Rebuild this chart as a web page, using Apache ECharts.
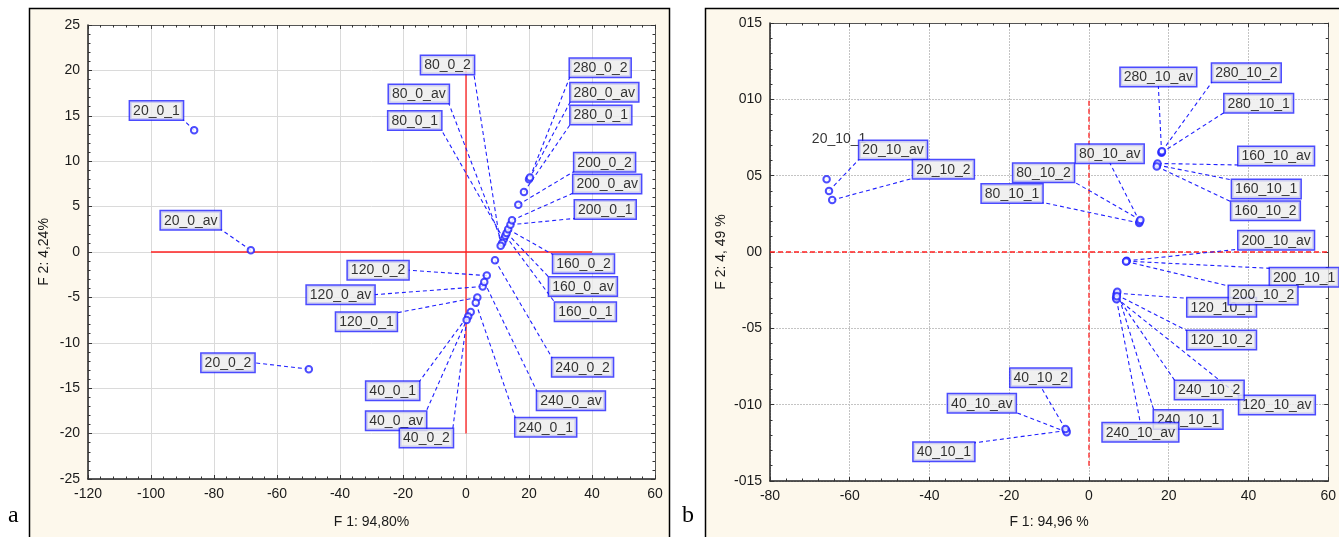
<!DOCTYPE html>
<html><head><meta charset="utf-8">
<script src="https://cdn.jsdelivr.net/npm/echarts/dist/echarts.min.js"></script>
<style>html,body{margin:0;padding:0;background:#fff}#c{width:1339px;height:537px}</style>
</head><body><div id="c"></div>
<script>
// ---------- Panel a data ----------
const namesA = ['20_0_1','20_0_av','20_0_2','40_0_1','40_0_av','40_0_2','80_0_1','80_0_av','80_0_2',
  '120_0_1','120_0_av','120_0_2','160_0_1','160_0_av','160_0_2','200_0_1','200_0_av','200_0_2',
  '240_0_1','240_0_av','240_0_2','280_0_1','280_0_av','280_0_2'];
const f1A = [-86.3,-68.3,-49.9, 1.5,0.7,0.2, 12.0,11.5,11.0, 3.6,5.3,6.6, 12.5,12.9,13.4, 14.1,14.6,16.6, 3.1,5.8,9.2, 18.4,20.0,20.3];
const f2A = [13.4,0.2,-12.9, -6.6,-7.1,-7.5, 1.4,1.0,0.7, -5.0,-3.8,-2.6, 1.8,2.1,2.5, 3.0,3.5,5.2, -5.6,-3.3,-0.9, 6.6,8.0,8.2];
const xTicksA = {min:-120, max:60, step:20};
const yTicksA = {min:-25, max:25, step:5};
const refHA = [[-100,0],[40,0]];
const refVA = [[0,-20],[0,20]];

// ---------- Panel b data ----------
const namesB = ['20_10_1','20_10_av','20_10_2','40_10_1','40_10_av','40_10_2','80_10_1','80_10_av','80_10_2',
  '120_10_1','120_10_av','120_10_2','160_10_1','160_10_av','160_10_2','200_10_1','200_10_av','200_10_2',
  '240_10_1','240_10_av','240_10_2','280_10_1','280_10_av','280_10_2'];
const f1B = [-65.8,-65.2,-64.4, -5.7,-5.6,-5.9, 12.6,12.7,12.9, 7.0,6.8,6.9, 17.1,17.2,17.0, 9.4,9.45,9.3, 7.1,6.9,7.0, 18.2,18.2,18.3];
const f2B = [4.76,4.0,3.4, -11.7,-11.8,-11.6, 1.9,2.0,2.1, -2.7,-3.0,-2.8, 5.7,5.8,5.6, -0.6,-0.58,-0.62, -2.6,-3.1,-2.9, 6.5,6.55,6.6];
const xTicksB = {min:-80, max:60, step:20};
const yTickValsB = [-15,-10,-5,0,5,10,15];
const yTickTextB = ['-015','-010','-05','00','05','010','015'];
const refHB = [[-80,0],[60,0]];
const refVB = [[0,-14],[0,10]];

const titleA = {x:'F 1: 94,80%', y:'F 2: 4,24%'};
const titleB = {x:'F 1: 94,96 %', y:'F 2: 4, 49 %'};

// ---------- label layout (anchor side, anchor in data units, boxed) ----------
const labelLayoutA = [
  ['br',-89.9,14.6],['br',-77.9,2.5],['r',-67.2,-12.2],
  ['tr',-14.9,-14.3],['tr',-12.7,-17.6],['tr',-4.2,-19.5],
  ['br',-7.9,13.5],['br',-5.5,16.4],['br',2.5,19.6],
  ['tr',-22.0,-6.7],['r',-29.1,-4.7],['r',-18.3,-2.0],
  ['tl',28.3,-5.6],['tl',26.4,-2.8],['tl',27.7,-0.3],
  ['bl',34.6,3.7],['bl',34.1,6.5],['bl',34.4,8.9],
  ['tl',15.7,-18.3],['tl',22.6,-15.4],['tl',27.4,-11.7],
  ['bl',33.2,14.1],['bl',33.2,16.6],['bl',33.0,19.3]
];
const labelLayoutB = [
  ['bl',-69.5,6.88,false],['bl',-57.6,6.09],['bl',-44.1,4.83],
  ['tr',-28.8,-12.5],['br',-18.4,-10.5],['b',-12.1,-8.82],
  ['br',-11.7,3.25],['b',5.2,5.85],['br',-3.8,4.6],
  ['tl',24.7,-3.03],['tl',37.7,-9.43],['tl',24.7,-5.17],
  ['tl',35.9,4.72],['bl',37.5,5.70],['tl',35.7,3.29],
  ['tl',45.4,-1.07],['bl',37.5,0.18],['tl',35.1,-2.23],
  ['tl',16.3,-10.39],['t',12.9,-11.22],['tl',21.6,-8.45],
  ['bl',34.0,9.15],['b',17.4,10.87],['bl',30.9,11.15]
];

const ALIGN = {tl:['left','top'],tr:['right','top'],bl:['left','bottom'],br:['right','bottom'],
  l:['left','middle'],r:['right','middle'],t:['center','top'],b:['center','bottom']};
const FONT = "'Liberation Sans', Arial, sans-serif";
const BLUE = '#2020ff';

function panelSeries(xi, yi, names, f1, f2, layout, refH, refV, refDashed){
  const lineData = [];
  layout.forEach((l,i)=>{ if(l[3]!==false) lineData.push({coords:[[f1[i],f2[i]],[l[1],l[2]]]}); });
  const labelData = layout.map((l,i)=>{
    const a = ALIGN[l[0]];
    const boxed = l[3]!==false;
    const lab = {show:true, position:'inside', align:a[0], verticalAlign:a[1], formatter:names[i],
      color:'#000', fontSize:14, fontFamily:FONT, lineHeight:15};
    if (boxed) Object.assign(lab, {backgroundColor:'#ececec', borderColor:'#1e1eff', borderWidth:1.5, padding:[2,3,1,3]});
    else Object.assign(lab, {padding:[0,0,0,0]});
    return {value:[l[1],l[2]], label:lab};
  });
  const red = {type:'line', xAxisIndex:xi, yAxisIndex:yi, symbol:'none', silent:true, z:1,
    lineStyle:{color:'#ff2020', width:1.3, type: refDashed ? [5,3] : 'solid'}};
  return [
    Object.assign({}, red, {data:refH}),
    Object.assign({}, red, {data:refV}),
    {type:'lines', coordinateSystem:'cartesian2d', xAxisIndex:xi, yAxisIndex:yi, polyline:false, silent:true, z:2,
      lineStyle:{color:BLUE, width:1.1, type:[4,3], opacity:1}, data:lineData},
    {type:'scatter', xAxisIndex:xi, yAxisIndex:yi, symbol:'emptyCircle', symbolSize:6.5, z:3, silent:true,
      itemStyle:{color:BLUE, borderColor:BLUE, borderWidth:1.2}, data:f1.map((x,i)=>[x,f2[i]])},
    {type:'scatter', xAxisIndex:xi, yAxisIndex:yi, symbolSize:1, z:10, silent:true,
      itemStyle:{color:'rgba(0,0,0,0)'}, data:labelData}
  ];
}

function xAxisPair(gi, t, dotted, name, gap){
  const split = {show:true, lineStyle:{color: dotted ? '#c4c4c4' : '#dadada', width:1, type: dotted ? [2,1] : 'solid'}};
  const tick = {show:true, inside:true, length:4, lineStyle:{color:'#333'}};
  const minor = {show:true, splitNumber:5, length:2.5, lineStyle:{color:'#333'}};
  return [
    {type:'value', gridIndex:gi, position:'bottom', min:t.min, max:t.max, interval:t.step,
      axisLine:{onZero:false, lineStyle:{color:'#222', width:1.5}}, axisTick:tick, minorTick:minor, splitLine:split,
      axisLabel:{color:'#1a1a1a', fontSize:14, fontFamily:FONT, margin:8},
      name:name, nameLocation:'middle', nameGap:gap, nameTextStyle:{color:'#1a1a1a', fontSize:14, fontFamily:FONT}},
    {type:'value', gridIndex:gi, position:'top', min:t.min, max:t.max, interval:t.step,
      axisLine:{onZero:false, lineStyle:{color:'#555', width:1}}, axisTick:tick, minorTick:minor,
      splitLine:{show:false}, axisLabel:{show:false}}
  ];
}
function yAxisPair(gi, min, max, step, dotted, name, gap, fmt){
  const split = {show:true, lineStyle:{color: dotted ? '#c4c4c4' : '#dadada', width:1, type: dotted ? [2,1] : 'solid'}};
  const tick = {show:true, inside:true, length:4, lineStyle:{color:'#333'}};
  const minor = {show:true, splitNumber:5, length:2.5, lineStyle:{color:'#333'}};
  return [
    {type:'value', gridIndex:gi, position:'left', min:min, max:max, interval:step,
      axisLine:{onZero:false, lineStyle:{color:'#222', width:1.5}}, axisTick:tick, minorTick:minor, splitLine:split,
      axisLabel:{color:'#1a1a1a', fontSize:14, fontFamily:FONT, margin:8, formatter:fmt},
      name:name, nameLocation:'middle', nameGap:gap, nameTextStyle:{color:'#1a1a1a', fontSize:14, fontFamily:FONT}},
    {type:'value', gridIndex:gi, position:'right', min:min, max:max, interval:step,
      axisLine:{onZero:false, lineStyle:{color:'#555', width:1}}, axisTick:tick, minorTick:minor,
      splitLine:{show:false}, axisLabel:{show:false}}
  ];
}

const fmtB = v => { const k = yTickValsB.indexOf(v); return k>=0 ? yTickTextB[k] : ''; };

const chart = echarts.init(document.getElementById('c'), null, {renderer:'canvas'});
chart.setOption({
  animation:false,
  backgroundColor:'#ffffff',
  grid:[
    {left:88, top:25, width:567, height:454, show:true, backgroundColor:'#ffffff', borderWidth:0},
    {left:770, top:23, width:564, height:458, show:true, backgroundColor:'#ffffff', borderWidth:0}
  ],
  xAxis:[].concat(xAxisPair(0, xTicksA, false, titleA.x, 36), xAxisPair(1, xTicksB, true, titleB.x, 34)),
  yAxis:[].concat(yAxisPair(0, yTicksA.min, yTicksA.max, yTicksA.step, false, titleA.y, 37),
                  yAxisPair(1, -15, 15, 5, true, titleB.y, 42, fmtB)),
  graphic:[
    {type:'rect', z:-10, shape:{x:29.5, y:8.5, width:640, height:540}, style:{fill:'#fdf8ec', stroke:'#000', lineWidth:1.5}},
    {type:'rect', z:-10, shape:{x:705.5, y:8.5, width:700, height:540}, style:{fill:'#fdf8ec', stroke:'#000', lineWidth:1.5}},
    {type:'text', z:5, left:8, top:504, style:{text:'a', font:"24px 'Liberation Serif', 'Times New Roman', serif", fill:'#000'}},
    {type:'text', z:5, left:682, top:504, style:{text:'b', font:"24px 'Liberation Serif', 'Times New Roman', serif", fill:'#000'}}
  ],
  series:[].concat(
    panelSeries(0, 0, namesA, f1A, f2A, labelLayoutA, refHA, refVA, false),
    panelSeries(2, 2, namesB, f1B, f2B, labelLayoutB, refHB, refVB, true)
  )
});
</script></body></html>
